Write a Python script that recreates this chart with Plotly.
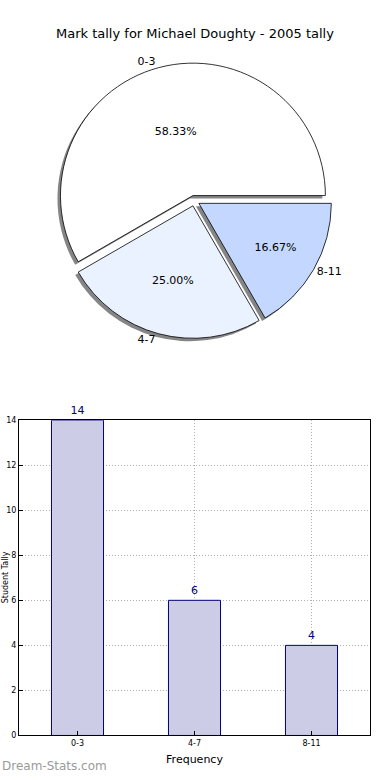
import plotly.graph_objects as go

categories = ["0-3", "4-7", "8-11"]
counts = [14, 6, 4]
pie_colors = ["#FFFFFF", "#EAF1FF", "#C4D8FF"]
bar_fill = "#CCCCE6"
bar_edge = "#000080"
y_ticks = [0, 2, 4, 6, 8, 10, 12, 14]

W, H = 390, 780
FONT = "DejaVu Sans"

def px_x(v):
    return v / W

def px_y(v):
    return 1 - v / H

# pie geometry (target pixels in the window)
cx, cy, r, pull = 194.3, 199.0, 134.0, 0.04
half = r * (1 + pull)
dom_x = [px_x(cx - half), px_x(cx + half)]
dom_y = [px_y(cy + half), px_y(cy - half)]
sh = 3.0
sh_x = [v - sh / W for v in dom_x]
sh_y = [v - sh / H for v in dom_y]

common = dict(labels=categories, values=counts, sort=False, direction="counterclockwise",
              rotation=-120, pull=[pull] * 3, hoverinfo="skip")

fig = go.Figure()
# shadow
fig.add_trace(go.Pie(**common, domain=dict(x=sh_x, y=sh_y),
                     marker=dict(colors=["#858585"] * 3, line=dict(width=0)),
                     textinfo="none", showlegend=False))
# main pie
fig.add_trace(go.Pie(**common, domain=dict(x=dom_x, y=dom_y),
                     marker=dict(colors=pie_colors, line=dict(color="#000000", width=0.8)),
                     texttemplate="%{percent:.2%}", textposition="inside",
                     insidetextorientation="horizontal",
                     textfont=dict(family=FONT, size=11, color="#000000"),
                     showlegend=False))
# outside labels
fig.add_trace(go.Pie(**common, domain=dict(x=dom_x, y=dom_y),
                     marker=dict(colors=["rgba(0,0,0,0)"] * 3, line=dict(width=0)),
                     textinfo="label", textposition="outside",
                     outsidetextfont=dict(family=FONT, size=11, color="#000000"),
                     showlegend=False))

# bar chart
fig.add_trace(go.Bar(x=categories, y=counts, width=0.445,
                     marker=dict(color=bar_fill, line=dict(color=bar_edge, width=1)),
                     text=[str(c) for c in counts], textposition="outside",
                     textfont=dict(family=FONT, size=11, color=bar_edge),
                     cliponaxis=False, showlegend=False, hoverinfo="skip"))

grid = dict(showgrid=True, gridcolor="#b0b0b0", griddash="1px,2px", gridwidth=1)
fig.update_layout(
    width=W, height=H,
    margin=dict(l=0, r=0, t=0, b=0),
    paper_bgcolor="white", plot_bgcolor="white",
    font=dict(family=FONT, size=11, color="#000000"),
    xaxis=dict(domain=[px_x(19), px_x(370)], range=[-0.5, 2.5], anchor="y",
               showline=True, linecolor="#000000", linewidth=1, mirror=True,
               ticks="inside", ticklen=4, tickcolor="#000000", **grid,
               tickfont=dict(family=FONT, size=8), zeroline=False,
               title=dict(text="Frequency", font=dict(family=FONT, size=11), standoff=8)),
    yaxis=dict(domain=[px_y(740), px_y(421)], range=[0, 14], anchor="x",
               tickvals=y_ticks, showline=True, linecolor="#000000", linewidth=1, mirror=True,
               ticks="inside", ticklen=4, tickcolor="#000000", **grid,
               tickfont=dict(family=FONT, size=8), zeroline=False),
    annotations=[
        dict(text="Mark tally for Michael Doughty - 2005 tally", x=px_x(195), y=px_y(30),
             xref="paper", yref="paper", showarrow=False,
             font=dict(family=FONT, size=13, color="#000000"), xanchor="center", yanchor="middle"),
        dict(text="Student Tally", x=px_x(5), y=px_y(580), xref="paper", yref="paper",
             showarrow=False, textangle=-90, font=dict(family=FONT, size=8, color="#000000"),
             xanchor="center", yanchor="middle"),
        dict(text="Dream-Stats.com", x=px_x(0), y=px_y(771), xref="paper", yref="paper",
             showarrow=False, font=dict(family=FONT, size=12, color="#9a9a9a"),
             xanchor="left", yanchor="middle"),
    ],
)

fig.write_html("out.html", config={"displayModeBar": False},
               post_script="document.body.style.margin='0';document.body.style.overflow='hidden';")
